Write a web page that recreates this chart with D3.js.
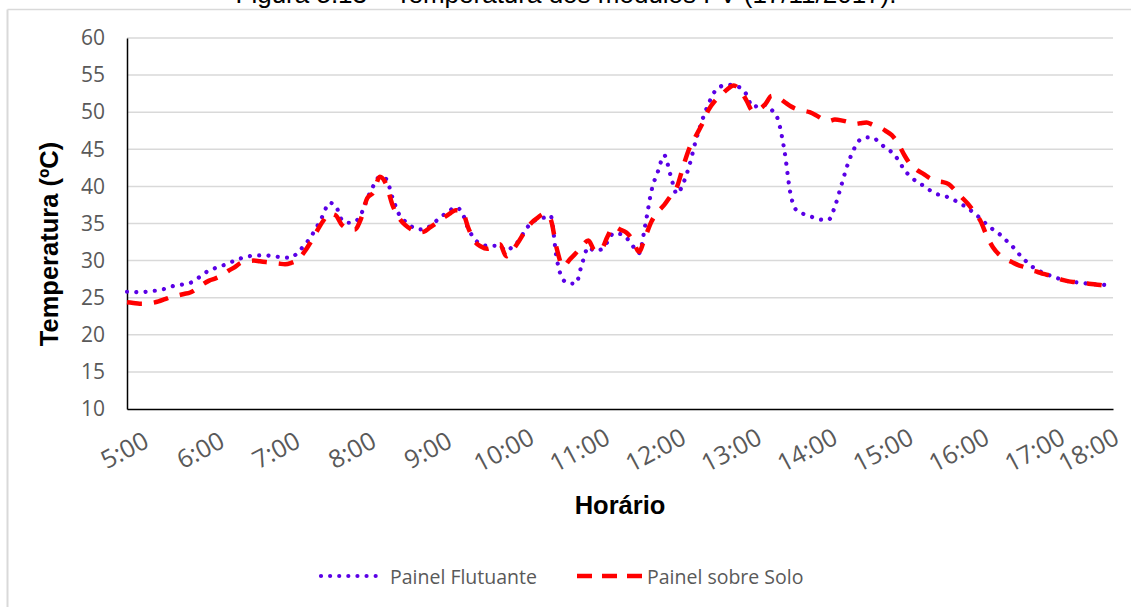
<!DOCTYPE html>
<html>
<head>
<meta charset="utf-8">
<script src="https://cdn.jsdelivr.net/npm/d3@7/dist/d3.min.js"></script>
<style>
  html, body { margin: 0; padding: 0; background: #fff; }
  svg { display: block; }
</style>
</head>
<body>
<svg id="chart" width="1131" height="607"></svg>
<script>
// ---- DATA (5-minute readings from 5:00 to 18:00) ----
const startMinute = 0;      // 5:00
const stepMinutes = 5;
const painelFlutuante = [
  25.8,25.8,25.7,25.8,25.9,26.0,26.2,26.5,26.7,26.8,27.0,27.5,
  28.1,28.7,29.0,29.3,29.6,30.0,30.3,30.5,30.7,30.7,30.7,30.6,
  30.5,30.4,30.4,31.1,32.0,33.1,34.5,36.1,37.8,37.4,35.5,35.1,
  35.2,36.2,38.3,40.1,41.3,41.0,38.5,36.3,35.3,34.6,34.2,34.2,
  34.7,35.4,36.1,36.7,37.2,36.5,34.3,32.9,32.2,32.0,32.0,31.9,
  31.3,31.9,32.7,34.1,35.1,35.6,35.8,36.1,30.2,27.4,26.9,26.9,
  29.6,31.8,31.3,31.5,32.5,33.7,33.6,33.1,32.0,31.0,34.8,39.5,
  42.0,44.2,41.5,39.0,40.4,42.9,46.2,48.9,51.1,52.8,53.5,53.7,
  53.6,53.3,52.4,50.7,50.9,51.0,50.3,49.0,44.9,38.9,36.7,36.3,
  36.0,35.7,35.5,35.5,37.3,40.1,42.9,45.0,46.3,46.6,46.6,45.9,
  45.2,44.6,43.6,42.2,41.3,40.6,40.1,39.5,39.0,38.8,38.5,38.1,
  37.6,37.1,36.4,35.7,34.9,34.2,33.6,32.8,32.0,31.0,30.1,29.3,
  28.8,28.3,28.0,27.7,27.4,27.2,27.1,27.0,26.9,26.8,26.8,26.7,
  26.7
];
const painelSolo = [
  24.4,24.3,24.2,24.2,24.3,24.5,24.8,25.1,25.3,25.5,25.7,26.2,
  26.8,27.3,27.6,28.0,28.6,29.1,29.7,29.9,30.0,29.9,29.8,29.7,
  29.6,29.5,29.7,30.1,31.1,32.4,33.9,35.3,36.3,36.1,34.8,34.3,
  34.2,35.6,38.4,39.2,41.3,40.3,37.5,35.8,34.8,34.2,33.8,33.9,
  34.5,35.1,35.7,36.3,36.8,36.7,34.4,32.6,31.9,31.6,31.9,32.2,
  30.6,31.4,32.6,34.0,35.1,35.8,36.3,35.6,31.6,29.2,30.1,31.0,
  32.0,32.7,31.4,31.5,33.2,34.6,34.2,33.8,32.8,31.2,33.2,35.3,
  36.6,37.5,38.7,39.9,42.7,45.2,46.8,48.4,50.3,51.5,52.3,53.1,
  53.6,53.0,51.6,50.2,50.4,51.1,52.2,52.0,51.4,50.8,50.4,50.2,
  50.0,49.6,49.1,48.8,49.0,48.9,48.7,48.4,48.5,48.6,48.3,48.0,
  47.5,46.9,45.8,44.2,42.9,42.2,41.7,41.1,40.7,40.6,40.3,39.5,
  38.6,37.7,36.6,35.4,33.4,31.8,30.8,30.2,29.8,29.4,29.1,28.7,
  28.5,28.2,28.0,27.7,27.4,27.2,27.1,27.0,26.9,26.8,26.7,26.6,
  26.6
];
const xTickLabels = ["5:00","6:00","7:00","8:00","9:00","10:00","11:00","12:00","13:00","14:00","15:00","16:00","17:00","18:00"];
const yTicks = [10,15,20,25,30,35,40,45,50,55,60];
const seriesNames = ["Painel Flutuante","Painel sobre Solo"];
const titleText = "Figura 5.13 – Temperatura dos módulos FV (17/11/2017).";
const yTitle = "Temperatura (ºC)";
const xTitle = "Horário";

// ---- LAYOUT ----
const svg = d3.select("#chart");
const plot = {left: 127, right: 1113, top: 38, bottom: 409};
const minutesArr = painelFlutuante.map((_, i) => startMinute + i * stepMinutes);
const x = d3.scaleLinear().domain([0, 780]).range([plot.left, plot.right]);
const y = d3.scaleLinear().domain([10, 60]).range([plot.bottom, plot.top]);

const tickFont = "'Open Sans', 'Noto Sans', sans-serif";
const boldFont = "'Liberation Sans', Arial, sans-serif";

// outer frame (only top and left visible)
svg.append("line").attr("x1", 7.5).attr("x2", 1131).attr("y1", 9.5).attr("y2", 9.5)
  .attr("stroke", "#d9d9d9").attr("stroke-width", 1.5);
svg.append("line").attr("x1", 7.5).attr("x2", 7.5).attr("y1", 9.5).attr("y2", 607)
  .attr("stroke", "#d9d9d9").attr("stroke-width", 2);

// cropped title (cut off by the top edge, as in the source image)
svg.append("text").attr("x", 566).attr("y", 3).attr("text-anchor", "middle")
  .attr("font-family", boldFont).attr("font-size", 26).attr("fill", "#000")
  .text(titleText);

// gridlines
svg.append("g").selectAll("line").data(yTicks.filter(d => d > 10)).join("line")
  .attr("x1", plot.left).attr("x2", plot.right)
  .attr("y1", d => y(d)).attr("y2", d => y(d))
  .attr("stroke", "#d9d9d9").attr("stroke-width", 1.5);

// y axis via d3.axisLeft
const yAxis = d3.axisLeft(y).tickValues(yTicks).tickSize(0).tickPadding(22);
const gy = svg.append("g").attr("transform", `translate(${plot.left},0)`).call(yAxis);
gy.select(".domain").attr("stroke", "#000").attr("stroke-width", 1.5);
gy.selectAll("text").attr("font-family", tickFont).attr("font-size", 21).attr("fill", "#595959");

// x axis
const xAxis = d3.axisBottom(x).tickValues(d3.range(0, 781, 60)).tickSize(0)
  .tickFormat((d, i) => xTickLabels[i]);
const gx = svg.append("g").attr("transform", `translate(0,${plot.bottom})`).call(xAxis);
gx.select(".domain").attr("stroke", "#000").attr("stroke-width", 1.5);
gx.selectAll(".tick").attr("transform", null);
gx.selectAll(".tick text")
  .attr("font-family", tickFont).attr("font-size", 25).attr("fill", "#595959")
  .attr("text-anchor", "middle").attr("dy", null).attr("y", null)
  .attr("dominant-baseline", "central")
  .attr("transform", d => {
    const cx = Math.min(x(d) - 3, 1088);
    return `translate(${cx},${40}) rotate(-28)`;
  });

// lines
const line = d3.line().x((d, i) => x(minutesArr[i])).y(d => y(d)).curve(d3.curveMonotoneX);
svg.append("path").datum(painelFlutuante).attr("d", line)
  .attr("fill", "none").attr("stroke", "#5a00e6").attr("stroke-width", 4.2)
  .attr("stroke-linecap", "round").attr("stroke-dasharray", "0.01 9.3");
svg.append("path").datum(painelSolo).attr("d", line)
  .attr("fill", "none").attr("stroke", "#ff0000").attr("stroke-width", 4.5)
  .attr("stroke-dasharray", "15 12");

// axis titles
svg.append("text").attr("transform", "translate(58,244) rotate(-90)")
  .attr("text-anchor", "middle").attr("font-family", boldFont).attr("font-weight", "bold")
  .attr("font-size", 25.5).attr("fill", "#000").text(yTitle);
svg.append("text").attr("x", 620).attr("y", 514).attr("text-anchor", "middle")
  .attr("font-family", boldFont).attr("font-weight", "bold")
  .attr("font-size", 25.5).attr("fill", "#000").text(xTitle);

// legend
const lg = svg.append("g");
lg.append("line").attr("x1", 321).attr("x2", 376).attr("y1", 576).attr("y2", 576)
  .attr("stroke", "#5a00e6").attr("stroke-width", 4.2).attr("stroke-linecap", "round")
  .attr("stroke-dasharray", "0.01 9.1");
lg.append("text").attr("x", 390).attr("y", 576).attr("dominant-baseline", "central")
  .attr("font-family", tickFont).attr("font-size", 19.5).attr("fill", "#595959").text(seriesNames[0]);
lg.append("line").attr("x1", 577).attr("x2", 642).attr("y1", 576).attr("y2", 576)
  .attr("stroke", "#ff0000").attr("stroke-width", 4.5).attr("stroke-dasharray", "15 10");
lg.append("text").attr("x", 647).attr("y", 576).attr("dominant-baseline", "central")
  .attr("font-family", tickFont).attr("font-size", 19.5).attr("fill", "#595959").text(seriesNames[1]);
</script>
</body>
</html>
